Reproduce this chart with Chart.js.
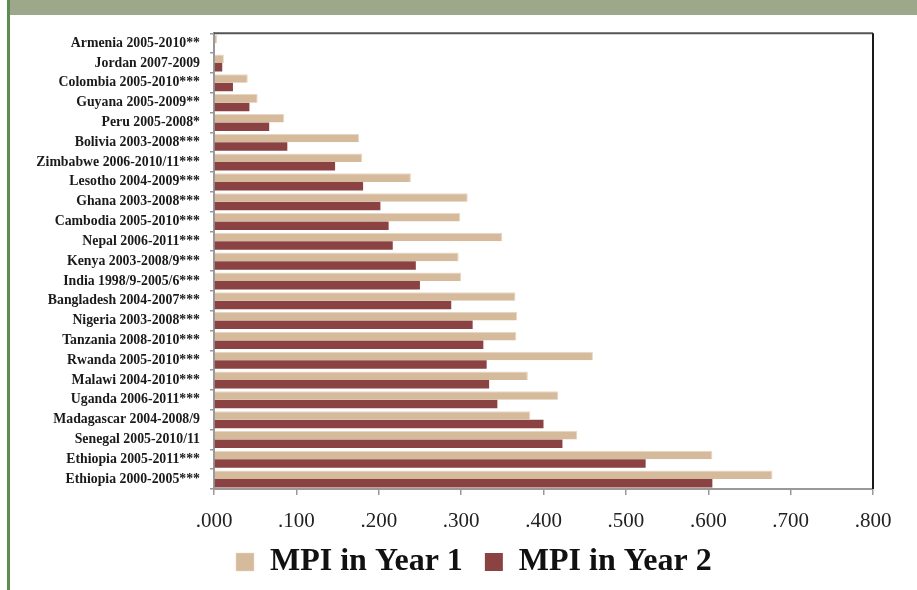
<!DOCTYPE html>
<html>
<head>
<meta charset="utf-8">
<script src="https://cdn.jsdelivr.net/npm/chart.js@4/dist/chart.umd.min.js"></script>
<style>
  html, body { margin: 0; padding: 0; background: #ffffff; }
  body { width: 917px; height: 590px; position: relative; overflow: hidden; }
  #band { position: absolute; left: 9px; top: 0; width: 908px; height: 15px; background: #9DA88B; }
  #vline { position: absolute; left: 7px; top: 0; width: 3px; height: 590px; background: #5E8B52; }
  #wrap { position: absolute; left: 26px; top: 15px; width: 891px; height: 585px; }
</style>
</head>
<body>
<div id="band"></div>
<div id="vline"></div>
<div id="wrap"><canvas id="c"></canvas></div>
<script>
const categories = [
  "Armenia 2005-2010**",
  "Jordan 2007-2009",
  "Colombia 2005-2010***",
  "Guyana 2005-2009**",
  "Peru 2005-2008*",
  "Bolivia 2003-2008***",
  "Zimbabwe 2006-2010/11***",
  "Lesotho 2004-2009***",
  "Ghana 2003-2008***",
  "Cambodia 2005-2010***",
  "Nepal 2006-2011***",
  "Kenya 2003-2008/9***",
  "India 1998/9-2005/6***",
  "Bangladesh 2004-2007***",
  "Nigeria 2003-2008***",
  "Tanzania 2008-2010***",
  "Rwanda 2005-2010***",
  "Malawi 2004-2010***",
  "Uganda 2006-2011***",
  "Madagascar 2004-2008/9",
  "Senegal 2005-2010/11",
  "Ethiopia 2005-2011***",
  "Ethiopia 2000-2005***"
];
const mpiYear1 = [0.004, 0.012, 0.041, 0.053, 0.085, 0.176, 0.180, 0.239, 0.308, 0.299, 0.350, 0.297, 0.300, 0.366, 0.368, 0.367, 0.460, 0.381, 0.418, 0.384, 0.441, 0.605, 0.678];
const mpiYear2 = [0.001, 0.010, 0.023, 0.043, 0.067, 0.089, 0.147, 0.181, 0.202, 0.212, 0.217, 0.245, 0.250, 0.288, 0.314, 0.327, 0.331, 0.334, 0.344, 0.400, 0.423, 0.524, 0.605];
const seriesNames = ["MPI in Year 1", "MPI in Year 2"];
const xTickValues = [0, 0.1, 0.2, 0.3, 0.4, 0.5, 0.6, 0.7, 0.8];

const frame = {
  id: 'frame',
  afterDraw(chart) {
    const a = chart.chartArea, ctx = chart.ctx;
    ctx.save();
    ctx.lineWidth = 2;
    ctx.strokeStyle = '#555555';
    ctx.beginPath();
    ctx.moveTo(a.left, a.top);
    ctx.lineTo(a.right, a.top);
    ctx.stroke();
    ctx.strokeStyle = '#1a1a1a';
    ctx.beginPath();
    ctx.moveTo(a.right, a.top);
    ctx.lineTo(a.right, a.bottom);
    ctx.stroke();
    ctx.restore();
  }
};

const legendShift = {
  id: 'legendShift',
  afterLayout(chart) {
    const l = chart.legend;
    if (l) { l.top -= 12; l.bottom -= 12; }
  }
};

new Chart(document.getElementById('c'), {
  type: 'bar',
  data: {
    labels: categories,
    datasets: [
      { label: seriesNames[0], data: mpiYear1, backgroundColor: '#D6BA9C', borderColor: '#E8D6C2', borderWidth: {top: 1, right: 1, bottom: 0, left: 0}, borderSkipped: 'start', categoryPercentage: 0.86, barPercentage: 1.0 },
      { label: seriesNames[1], data: mpiYear2, backgroundColor: '#8A4242', borderColor: '#7a3a3a', borderWidth: 0, categoryPercentage: 0.86, barPercentage: 1.0 }
    ]
  },
  plugins: [frame, legendShift],
  options: {
    indexAxis: 'y',
    responsive: true,
    maintainAspectRatio: false,
    animation: false,
    layout: { padding: { top: 18, right: 44, left: 0, bottom: 0 } },
    scales: {
      x: {
        min: 0, max: 0.8,
        afterBuildTicks(scale) { scale.ticks = xTickValues.map(v => ({ value: v })); },
        afterFit(scale) { scale.height = 47; },
        ticks: {
          callback: v => '.' + Math.round(v * 1000).toString().padStart(3, '0'),
          font: { family: 'Liberation Serif', size: 21 },
          color: '#222222',
          padding: 14,
          maxRotation: 0
        },
        grid: { display: true, drawOnChartArea: false, drawTicks: true, tickLength: 6, color: '#999999', lineWidth: 1.5 },
        border: { display: true, color: '#999999', width: 2 }
      },
      y: {
        afterFit(scale) { scale.width = 188; },
        ticks: {
          font: { family: 'Liberation Serif', size: 13.8, weight: 'bold' },
          color: '#1a1a1a',
          padding: 10,
          autoSkip: false
        },
        grid: { display: true, drawOnChartArea: false, drawTicks: true, tickLength: 4, color: '#999999', lineWidth: 1.5 },
        border: { display: true, color: '#999999', width: 2 }
      }
    },
    plugins: {
      legend: {
        position: 'bottom',
        fullSize: false,
        align: 'start',
        labels: {
          font: { family: 'Liberation Serif', size: 32, weight: 'bold' },
          color: '#111111',
          boxWidth: 18,
          boxHeight: 18,
          padding: 22
        }
      },
      tooltip: { enabled: false }
    }
  }
});
</script>
</body>
</html>
